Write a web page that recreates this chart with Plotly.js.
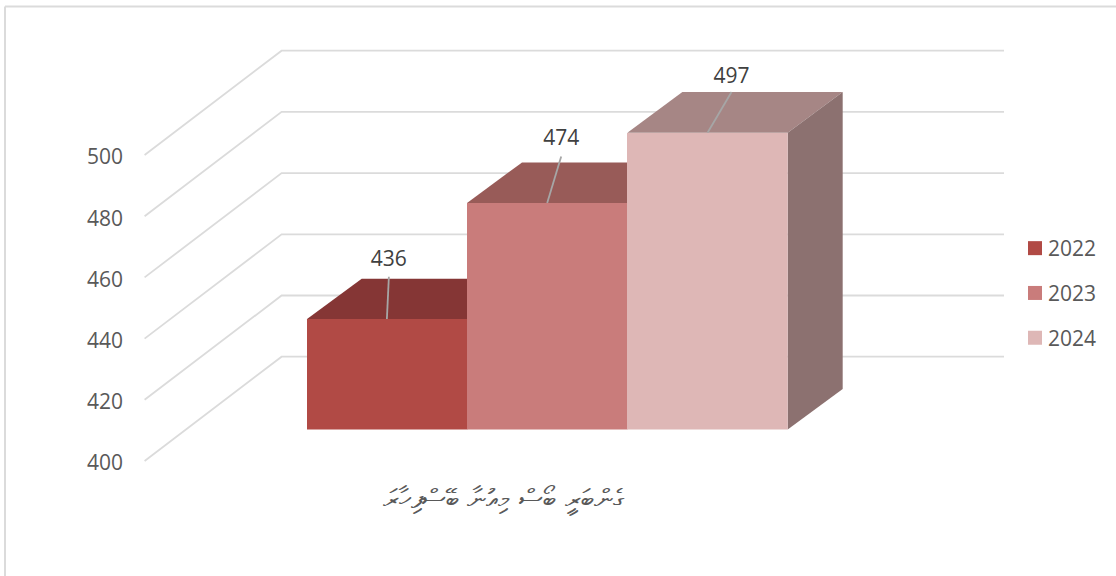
<!DOCTYPE html>
<html>
<head>
<meta charset="utf-8">
<script src="https://cdn.plot.ly/plotly-3.0.1.min.js"></script>
<style>html,body{margin:0;padding:0;background:#fff;overflow:hidden}#chart{width:1116px;height:576px}</style>
</head>
<body>
<div id="chart"></div>
<script>
// ---- data ----
const categories = ["ގެންބަރީ ބޯސް މިއުނާ ބޭސްފިހާރަ"];
const seriesNames = ["2022", "2023", "2024"];
const seriesValues = [436, 474, 497];
const axisTicks = [400, 420, 440, 460, 480, 500];

// ---- styling ----
const frontColors = ["#B14A45", "#C97C7B", "#DEB7B6"];
const topColors   = ["#853635", "#985B58", "#A68685"];
const sideColors  = ["#6E3230", "#7D504E", "#8C7170"];
const GRID = "#DBDBDB", TEXT = "#595959", LABEL = "#404040";
const FONT = "'Open Sans', sans-serif";

// ---- oblique projection of the 3-D column chart (page px on x, value units on y) ----
const W = 1116, H = 576;
const PX_PER_UNIT = 3.06;
const AXIS_Y0 = 461;               // page y of value 400 on the front axis
const units = px => px / PX_PER_UNIT;
const axisMin = axisTicks[0];
const yRange = [axisMin - units(H - AXIS_Y0), axisMin + units(AXIS_Y0)];

const wallDX = 137, wallDY = units(104.3);   // floor depth from axis to back wall
const gridStartX = 144.6, gridEndX = 1004;
const barsLeft = 306.7, barW = 160.33;
const frontLift = units(AXIS_Y0 - 429.5);    // bars stand this far up the floor
const depthDX = 55, depthDY = units(40.6);   // column depth
const leaderTopDX = [2, 14, 24];             // leader slant per label
const leaderTopLift = [2, 6, 0];             // leader rise above the back edge, px
const labelLift = [5, 6, 4];                 // label rise above the leader end, px
const frontTop = 64;                         // page y where the bar axis ends

const traces = [];
const yOf = v => v + frontLift;

// gridlines on floor and wall
axisTicks.forEach(t => traces.push({
  x: [gridStartX, gridStartX + wallDX, gridEndX],
  y: [t, t + wallDY, t + wallDY],
  type: "scatter", mode: "lines", line: {color: GRID, width: 1.8},
  hoverinfo: "skip", showlegend: false, xaxis: "x", yaxis: "y"
}));

// top and side faces
seriesValues.forEach((v, i) => {
  const l = barsLeft + i * barW, r = l + barW, t = yOf(v), b = yOf(axisMin);
  traces.push({
    x: [l, l + depthDX, r + depthDX, r, l],
    y: [t, t + depthDY, t + depthDY, t, t],
    type: "scatter", mode: "lines", fill: "toself", fillcolor: topColors[i],
    line: {width: 0, color: topColors[i]}, hoverinfo: "skip", showlegend: false
  });
  traces.push({
    x: [r, r + depthDX, r + depthDX, r, r],
    y: [t, t + depthDY, b + depthDY, b, t],
    type: "scatter", mode: "lines", fill: "toself", fillcolor: sideColors[i],
    line: {width: 0, color: sideColors[i]}, hoverinfo: "skip", showlegend: false
  });
});

// leader lines and value labels
seriesValues.forEach((v, i) => {
  const cx = barsLeft + (i + 0.5) * barW;
  const endY = yOf(v) + depthDY + units(leaderTopLift[i]);
  traces.push({
    x: [cx, cx + leaderTopDX[i]],
    y: [yOf(v), endY],
    type: "scatter", mode: "lines", line: {color: "#A6A6A6", width: 1.8},
    hoverinfo: "skip", showlegend: false
  });
  traces.push({
    x: [cx + leaderTopDX[i]],
    y: [endY + units(labelLift[i])],
    text: [String(v)],
    type: "scatter", mode: "text", textposition: "top center",
    textfont: {family: FONT, size: 21, color: LABEL},
    hoverinfo: "skip", showlegend: false
  });
});

// front faces: real grouped bars on their own axes
seriesNames.forEach((name, i) => traces.push({
  type: "bar", name, x: categories, y: [seriesValues[i]],
  marker: {color: frontColors[i], line: {width: 0}},
  legendgroup: name, xaxis: "x2", yaxis: "y2", hoverinfo: "y+name"
}));

const layout = {
  width: W, height: H,
  margin: {l: 0, r: 0, t: 0, b: 0},
  paper_bgcolor: "#fff", plot_bgcolor: "rgba(0,0,0,0)",
  font: {family: FONT, size: 20, color: TEXT},
  barmode: "group", bargap: 0, bargroupgap: 0,
  xaxis: {domain: [0, 1], range: [0, W], visible: false, fixedrange: true},
  yaxis: {
    domain: [0, 1], range: yRange, tickvals: axisTicks, ticktext: axisTicks.map(String),
    anchor: "free", position: 123 / W, ticks: "", showline: false, showgrid: false,
    zeroline: false, ticklabelshift: 2,
    tickfont: {family: FONT, size: 21, color: TEXT}, fixedrange: true
  },
  xaxis2: {
    domain: [barsLeft / W, (barsLeft + 3 * barW) / W], anchor: "y2", type: "category",
    showline: false, showgrid: false, ticks: "", ticklabelstandoff: 50, ticklabelshift: -44,
    tickfont: {family: "'DejaVu Sans', 'Noto Sans', sans-serif", size: 27, color: TEXT},
    fixedrange: true
  },
  yaxis2: {
    domain: [(H - 429.5) / H, (H - frontTop) / H], anchor: "x2",
    range: [axisMin, axisMin + units(429.5 - frontTop)],
    visible: false, fixedrange: true
  },
  legend: {
    x: 1015 / W, y: 1 - 228 / H, xanchor: "left", yanchor: "top",
    traceorder: "grouped", tracegroupgap: 14.5,
    font: {family: FONT, size: 21, color: TEXT}, bgcolor: "rgba(0,0,0,0)"
  },
  shapes: [
    {type: "line", xref: "paper", yref: "paper", x0: 5 / W, x1: 1, y0: 1 - 6.5 / H, y1: 1 - 6.5 / H, line: {color: GRID, width: 2}},
    {type: "line", xref: "paper", yref: "paper", x0: 5 / W, x1: 5 / W, y0: 0, y1: 1 - 6.5 / H, line: {color: GRID, width: 2}}
  ]
};

Plotly.newPlot("chart", traces, layout, {displayModeBar: false, staticPlot: true}).then(gd => {
  // legend swatches are slightly larger and closer to their text in the reference
  gd.querySelectorAll(".legend .traces").forEach(tr => {
    tr.querySelectorAll(".legendpoints path").forEach(p => p.setAttribute("d", "M7,7H-7V-7H7Z"));
    const t = tr.querySelector(".legendtext");
    if (t) t.setAttribute("x", +t.getAttribute("x") - 7);
  });
});
</script>
</body>
</html>
